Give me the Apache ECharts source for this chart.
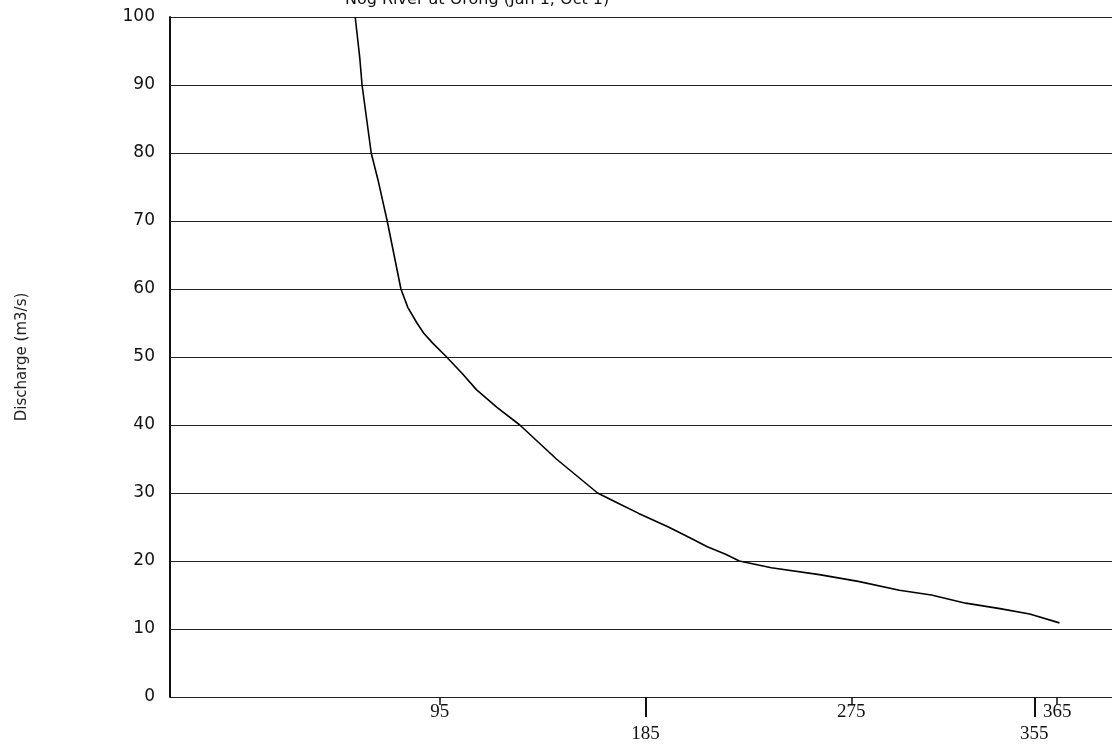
<!DOCTYPE html>
<html>
<head>
<meta charset="utf-8">
<script src="https://cdn.jsdelivr.net/npm/echarts@6/dist/echarts.min.js"></script>
<style>
  html, body { margin: 0; padding: 0; background: #fff; }
  #chart { width: 1112px; height: 748px; }
</style>
</head>
<body>
<div id="chart"></div>
<script>
// Flow duration curve - days vs discharge
const days = [58, 60, 61, 63, 65, 68, 70, 72, 75, 78, 81, 85, 88, 92, 98, 105, 111, 120, 130, 138, 146, 155, 164, 173, 182, 195, 205, 212, 220, 226, 240, 261, 278, 296, 310, 325, 340, 353, 366];
const discharge = [100, 94, 90, 85, 80, 76, 73, 70, 65, 60, 57.3, 55, 53.5, 52, 50, 47.5, 45.2, 42.6, 40, 37.5, 35, 32.5, 30, 28.5, 27, 25, 23.3, 22.1, 21, 20, 19, 18, 17, 15.7, 15, 13.8, 13, 12.2, 10.9];
const shortTicks = [95, 275, 365];
const longTicks = [185, 355];
const yTicks = [0, 10, 20, 30, 40, 50, 60, 70, 80, 90, 100];

const chart = echarts.init(document.getElementById('chart'));

const seriesData = days.map((d, i) => [d, discharge[i]]);

const baseX = {
    type: 'value',
    min: -23,
    max: 389,
    position: 'bottom',
    axisLine: { show: false },
    splitLine: { show: false }
};

const option = {
    animation: false,
    title: {
        text: 'Nog River at Orong (Jan 1, Oct 1)',
        left: 340,
        top: -13,
        textStyle: { fontFamily: 'DejaVu Sans', fontSize: 16, fontWeight: 'normal', color: '#111' }
    },
    grid: { left: 170, right: 0, top: 17, bottom: 51 },
    xAxis: [
        Object.assign({}, baseX, {
            axisTick: { show: true, customValues: shortTicks, length: 8,
                lineStyle: { color: '#111', width: 1.5 } },
            axisLabel: { customValues: shortTicks, margin: 6, color: '#111',
                fontFamily: 'Liberation Serif', fontSize: 19 }
        }),
        Object.assign({}, baseX, {
            axisTick: { show: true, customValues: longTicks, length: 20,
                lineStyle: { color: '#111', width: 2 } },
            axisLabel: { customValues: longTicks, margin: 28, color: '#111',
                fontFamily: 'Liberation Serif', fontSize: 19 }
        })
    ],
    yAxis: {
        type: 'value',
        min: 0,
        max: 100,
        interval: 10,
        name: 'Discharge (m3/s)',
        nameLocation: 'middle',
        nameGap: 140,
        nameRotate: 90,
        nameTextStyle: { fontFamily: 'DejaVu Sans', fontSize: 15, color: '#222' },
        axisLine: { show: true, onZero: false, lineStyle: { color: '#111', width: 2 } },
        axisTick: { show: false },
        axisLabel: { margin: 15, color: '#111', fontFamily: 'DejaVu Sans', fontSize: 17,
            formatter: v => yTicks.includes(v) ? String(v) : '' },
        splitLine: { show: true, lineStyle: { color: '#222', width: 1 } }
    },
    series: [{
        type: 'line',
        xAxisIndex: 0,
        data: seriesData,
        smooth: false,
        showSymbol: false,
        lineStyle: { color: '#000', width: 1.6 }
    }]
};

chart.setOption(option);
</script>
</body>
</html>
